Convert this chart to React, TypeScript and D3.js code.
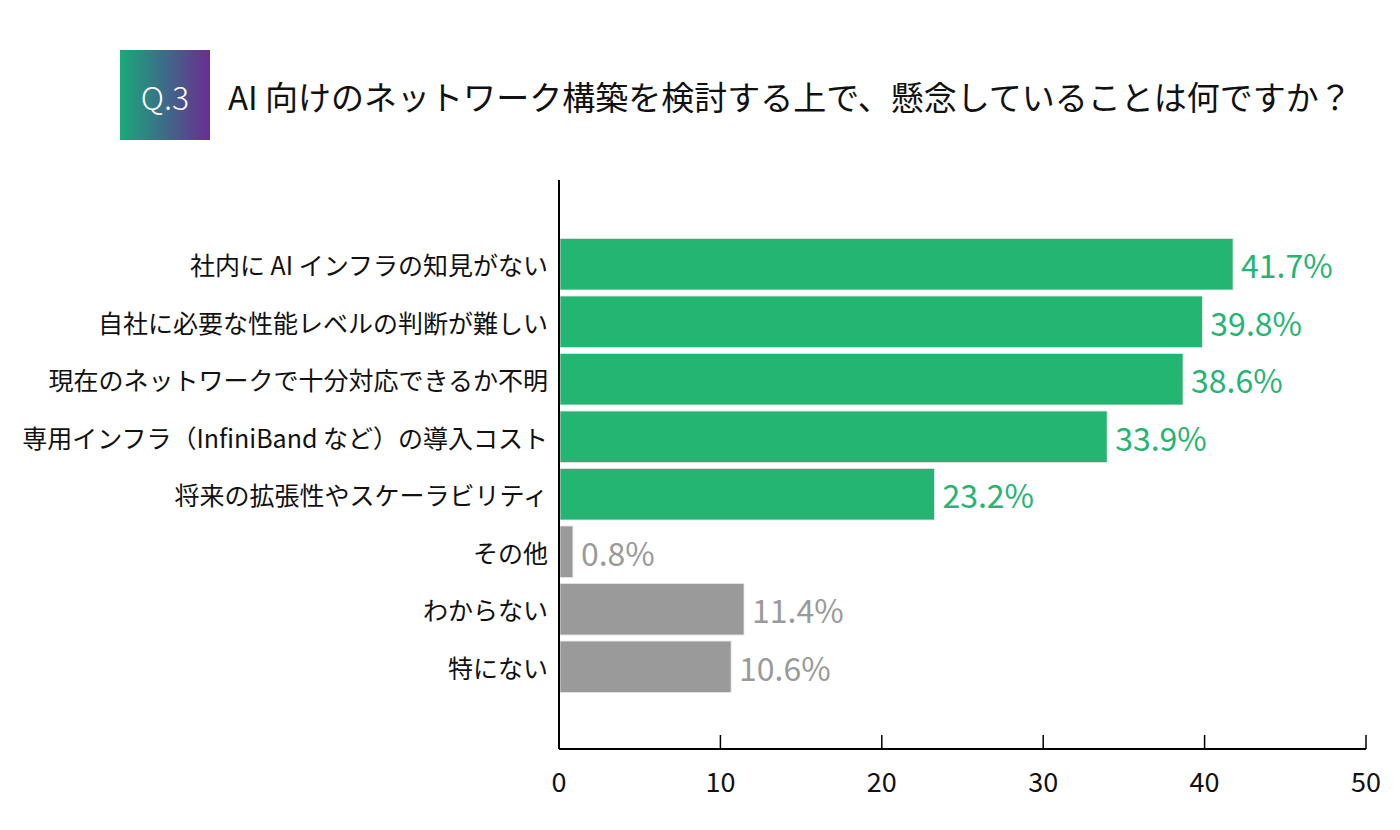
import React from "react";
import * as d3 from "d3";

const categories = [
  "社内に AI インフラの知見がない",
  "自社に必要な性能レベルの判断が難しい",
  "現在のネットワークで十分対応できるか不明",
  "専用インフラ（InfiniBand など）の導入コスト",
  "将来の拡張性やスケーラビリティ",
  "その他",
  "わからない",
  "特にない",
];
const values = [41.7, 39.8, 38.6, 33.9, 23.2, 0.8, 11.4, 10.6];
const highlighted = [true, true, true, true, true, false, false, false];
const xTicks = [0, 10, 20, 30, 40, 50];
const title = "AI 向けのネットワーク構築を検討する上で、懸念していることは何ですか？";
const qLabel = "Q.3";

const W = 1400;
const H = 830;
const GREEN = "#25b573";
const GREY = "#9a9a9a";
const FONT = "'Noto Sans CJK JP', 'Noto Sans', sans-serif";

export default function App() {
  const x = d3.scaleLinear().domain([0, 50]).range([559, 1366]);
  const slots = categories.map((_, i) => String(i));
  const y = d3
    .scaleBand<string>()
    .domain(slots)
    .range([181, 750])
    .paddingInner(0.105)
    .paddingOuter(1.0);
  const axisY = 749;

  return (
    <svg
      width={W}
      height={H}
      style={{ position: "absolute", left: 0, top: 0, background: "#fff" }}
      fontFamily={FONT}
    >
      <defs>
        <linearGradient id="qgrad" x1="0" x2="1" y1="0" y2="0">
          <stop offset="0%" stopColor="#1aa97a" />
          <stop offset="50%" stopColor="#3d6b88" />
          <stop offset="100%" stopColor="#6a2d92" />
        </linearGradient>
      </defs>
      <rect x={0} y={0} width={W} height={H} fill="#fff" />

      {/* Header */}
      <rect x={120} y={50} width={90} height={90} fill="url(#qgrad)" />
      <text
        x={165}
        y={96}
        textAnchor="middle"
        dominantBaseline="central"
        fill="#fff"
        fontSize={32}
        fontWeight={300}
      >
        {qLabel}
      </text>
      <text
        x={228}
        y={96}
        dominantBaseline="central"
        fill="#111"
        fontSize={33}
        fontWeight={400}
      >
        {title}
      </text>

      {/* Bars */}
      {values.map((v, i) => {
        const yy = y(String(i))!;
        const bw = y.bandwidth();
        const col = highlighted[i] ? GREEN : GREY;
        return (
          <g key={i}>
            <rect
              x={x(0) + 1}
              y={yy}
              width={Math.max(0, x(v) - x(0))}
              height={bw}
              fill={col}
              stroke="#e6e6e6"
              strokeWidth={0.8}
            />
            <text
              x={x(v) + 9}
              y={yy + bw / 2}
              dominantBaseline="central"
              fill={col}
              fontSize={32}
            >
              {v.toFixed(1) + "%"}
            </text>
            <text
              x={548}
              y={yy + bw / 2}
              textAnchor="end"
              dominantBaseline="central"
              fill="#111"
              fontSize={25}
            >
              {categories[i]}
            </text>
          </g>
        );
      })}

      {/* Axes */}
      <line x1={x(0)} x2={x(0)} y1={180} y2={axisY} stroke="#000" strokeWidth={2} />
      <line x1={x(0)} x2={x(50)} y1={axisY} y2={axisY} stroke="#000" strokeWidth={2} />
      {xTicks.map((t) => (
        <g key={t}>
          {t > 0 && (
            <line x1={x(t)} x2={x(t)} y1={axisY - 14} y2={axisY} stroke="#000" strokeWidth={1.5} />
          )}
          <text
            x={x(t)}
            y={780}
            textAnchor="middle"
            dominantBaseline="central"
            fill="#111"
            fontSize={27}
          >
            {t}
          </text>
        </g>
      ))}
    </svg>
  );
}
